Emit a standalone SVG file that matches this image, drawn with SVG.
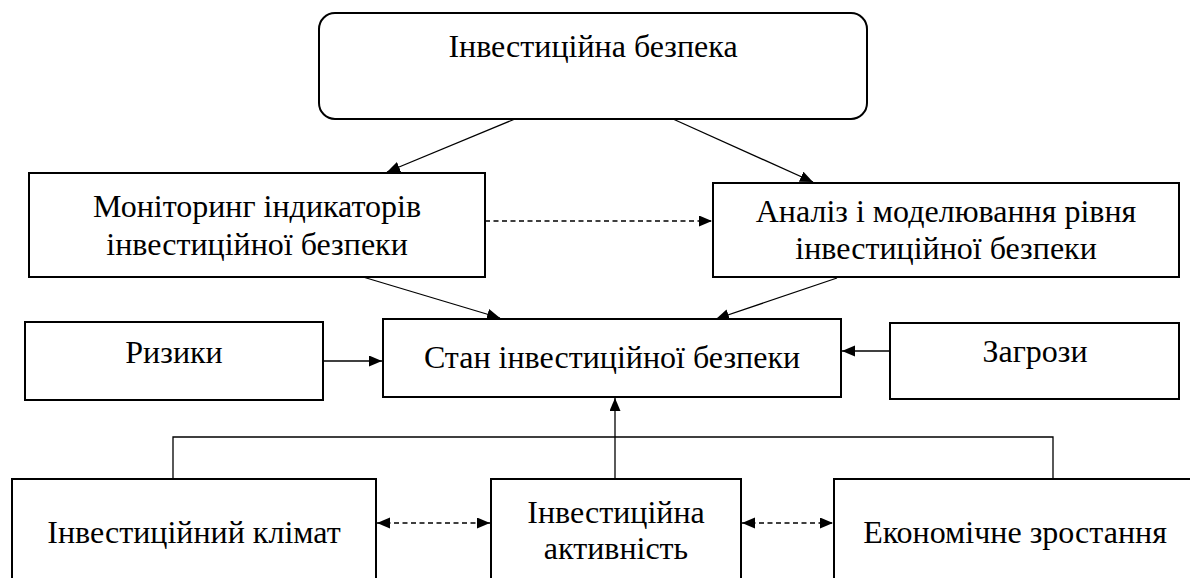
<svg xmlns="http://www.w3.org/2000/svg" width="1190" height="578" viewBox="0 0 1190 578">
<style>
.box{fill:#fff;stroke:#000;stroke-width:2}
.t{font-family:'Liberation Serif','DejaVu Serif',serif;font-size:32px;fill:#000;text-anchor:middle}
.c{fill:none;stroke:#000;stroke-width:1.3}
.d{stroke-dasharray:5 3.5}
.a{marker-end:url(#ah)}
.dd{marker-start:url(#ah);marker-end:url(#ah)}
</style>
<defs>
<marker id="ah" markerUnits="userSpaceOnUse" markerWidth="14" markerHeight="12" refX="13" refY="5.5" orient="auto-start-reverse">
<path d="M0,0 L13,5.5 L0,11 z" fill="#000"/>
</marker>
</defs>
<rect width="1190" height="578" fill="#fff"/>
<g id="connectors">
<line class="c a" x1="515" y1="119" x2="387" y2="172"/>
<line class="c a" x1="673" y1="119" x2="813" y2="182"/>
<line class="c d a" x1="485" y1="221" x2="712" y2="221"/>
<line class="c a" x1="363" y1="277" x2="500" y2="318"/>
<line class="c a" x1="837" y1="278" x2="716" y2="319"/>
<line class="c a" x1="323" y1="361" x2="382" y2="361"/>
<line class="c a" x1="890" y1="351" x2="842" y2="351"/>
<line class="c a" x1="615" y1="479" x2="615" y2="398"/>
<polyline class="c" points="173,479 173,437 1053,437 1053,479"/>
<line class="c d dd" x1="377" y1="523" x2="490" y2="523"/>
<line class="c d dd" x1="742" y1="523" x2="833" y2="523"/>
</g>
<g font-family="Liberation Serif, DejaVu Serif, serif">
<g id="n-top">
<rect class="box" x="319" y="13" width="548" height="106" rx="16"/>
<text class="t" x="593" y="57">Інвестиційна безпека</text>
</g>
<g id="n-monitoring">
<rect class="box" x="29" y="173" width="456" height="104"/>
<text class="t" x="257" y="217">Моніторинг індикаторів</text>
<text class="t" x="257" y="255">інвестиційної безпеки</text>
</g>
<g id="n-analysis">
<rect class="box" x="713" y="183" width="466" height="94"/>
<text class="t" x="946" y="222">Аналіз і моделювання рівня</text>
<text class="t" x="946" y="259">інвестиційної безпеки</text>
</g>
<g id="n-risks">
<rect class="box" x="25" y="322" width="298" height="78"/>
<text class="t" x="174" y="363">Ризики</text>
</g>
<g id="n-state">
<rect class="box" x="383" y="319" width="458" height="78"/>
<text class="t" x="612" y="368">Стан інвестиційної безпеки</text>
</g>
<g id="n-threats">
<rect class="box" x="890" y="323" width="289" height="76"/>
<text class="t" x="1035" y="362">Загрози</text>
</g>
<g id="n-climate">
<rect class="box" x="12" y="479" width="364" height="120"/>
<text class="t" x="194" y="543">Інвестиційний клімат</text>
</g>
<g id="n-activity">
<rect class="box" x="491" y="479" width="250" height="120"/>
<text class="t" x="616" y="523">Інвестиційна</text>
<text class="t" x="616" y="559">активність</text>
</g>
<g id="n-growth">
<rect class="box" x="834" y="479" width="362" height="120"/>
<text class="t" x="1015" y="543">Економічне зростання</text>
</g>
</g>
</svg>
